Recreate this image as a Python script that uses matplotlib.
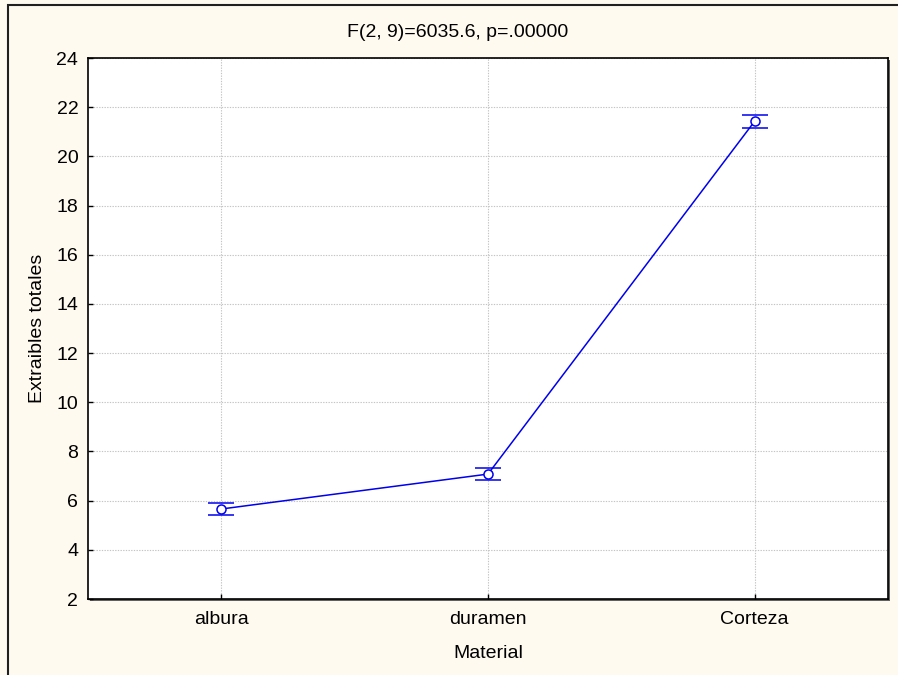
import numpy as np
import matplotlib.pyplot as plt
from matplotlib.patches import Rectangle

plt.rcParams['font.family'] = ['Liberation Sans', 'DejaVu Sans']

materials = ['albura', 'duramen', 'Corteza']
means = [5.66, 7.08, 21.43]
ci = [0.25, 0.26, 0.26]

bg = '#fffaf0'
fs = 14
fig = plt.figure(figsize=(8.98, 6.75), dpi=100, facecolor=bg)

# outer frame (only left and top fall inside the canvas)
fig.patches.append(Rectangle((8/898, -0.1), 1.2, 1.1 - 5/675, transform=fig.transFigure,
                             fill=False, edgecolor='#202020', linewidth=1.5, zorder=-2))

# drop shadow behind the plot area
fig.patches.append(Rectangle((90/898, 1 - 601/675), 800/898, 541/675, transform=fig.transFigure,
                             facecolor='#606060', edgecolor='none', zorder=-1))

ax = fig.add_axes([88/898, 1 - 599/675, 800/898, 541/675])
ax.set_facecolor('white')

x = np.arange(len(materials))
ax.errorbar(x, means, yerr=ci, color='#0000ee', linewidth=1.1, marker='o', markersize=6.5,
            markerfacecolor='white', markeredgecolor='#0000ee', markeredgewidth=1.1,
            capsize=9.5, capthick=1.6, elinewidth=0, zorder=3)

ax.set_xlim(-0.5, 2.5)
ax.set_ylim(2, 24)
ax.set_yticks(np.arange(2, 25, 2))
ax.set_xticks(x)
ax.set_xticklabels(materials)
ax.grid(True, color='#c4c4c4', linestyle=(0, (1.2, 1.2)), linewidth=0.8)
ax.set_axisbelow(True)

for s in ax.spines.values():
    s.set_color('black')
    s.set_linewidth(1.2)
ax.tick_params(direction='in', length=3.5, width=1, labelsize=fs, pad=7)
ax.tick_params(axis='x', pad=9)

fig.text(457.5/898, 1 - 37/675, 'F(2, 9)=6035.6, p=.00000', fontsize=fs,
         ha='center', va='baseline')
ax.set_xlabel('Material', fontsize=fs)
ax.set_ylabel('Extraibles totales', fontsize=fs)
ax.xaxis.set_label_coords(0.5, -0.0850)
ax.yaxis.set_label_coords(-0.0525, 0.5)

fig.savefig('out.png', dpi=100, facecolor=bg)
